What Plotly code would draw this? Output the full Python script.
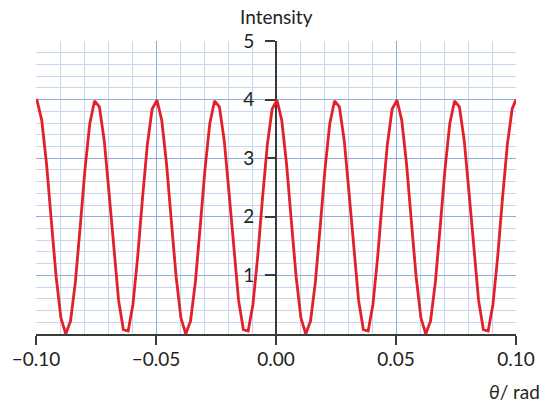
import plotly.graph_objects as go

# Sample positions (rad): roughly 0.002 rad apart
theta = [-0.1] + [round(-0.0996 + 0.002 * k, 4) for k in range(100)] + [0.1]

# Intensity values
intensity = [4.0,
    3.990, 3.647, 2.897, 1.924, 0.971, 0.272, 0.001, 0.224, 0.886, 1.824, 2.806, 3.588, 3.977,
    3.877, 3.313, 2.424, 1.430, 0.577, 0.076, 0.051, 0.508, 1.334, 2.326, 3.236, 3.840,
    3.990, 3.647, 2.897, 1.924, 0.971, 0.272, 0.001, 0.224, 0.886, 1.824, 2.806, 3.588, 3.977,
    3.877, 3.313, 2.424, 1.430, 0.577, 0.076, 0.051, 0.508, 1.334, 2.326, 3.236, 3.840,
    3.990, 3.647, 2.897, 1.924, 0.971, 0.272, 0.001, 0.224, 0.886, 1.824, 2.806, 3.588, 3.977,
    3.877, 3.313, 2.424, 1.430, 0.577, 0.076, 0.051, 0.508, 1.334, 2.326, 3.236, 3.840,
    3.990, 3.647, 2.897, 1.924, 0.971, 0.272, 0.001, 0.224, 0.886, 1.824, 2.806, 3.588, 3.977,
    3.877, 3.313, 2.424, 1.430, 0.577, 0.076, 0.051, 0.508, 1.334, 2.326, 3.236, 3.840,
    4.0]

x_tick_vals = [-0.10, -0.05, 0.00, 0.05, 0.10]
x_tick_text = ["\u22120.10", "\u22120.05", "0.00", "0.05", "0.10"]
y_tick_vals = [1, 2, 3, 4, 5]
y_tick_text = ["1", "2", "3", "4", "5"]

FONT = "Lato"
TXT = "#231f20"
MAJOR = "#8eaedb"
MINOR = "#c6d8ef"

fig = go.Figure()
fig.add_trace(go.Scatter(
    x=theta, y=intensity, mode="lines",
    line=dict(color="#e3202a", width=2.8),
    hoverinfo="skip", showlegend=False,
))

fig.update_layout(
    width=543, height=402,
    margin=dict(l=36, r=27, t=41, b=68),
    paper_bgcolor="white", plot_bgcolor="white",
    font=dict(family=FONT, size=19, color=TXT),
    xaxis=dict(
        range=[-0.1, 0.1], automargin=False,
        tickmode="array", tickvals=x_tick_vals, ticktext=x_tick_text,
        showgrid=True, gridcolor=MAJOR, gridwidth=1,
        minor=dict(dtick=0.01, tick0=0, showgrid=True, gridcolor=MINOR, gridwidth=1),
        zeroline=False,
        showline=True, linecolor="#3a3a3a", linewidth=2,
        ticks="outside", ticklen=9, tickwidth=2, tickcolor="#3a3a3a",
        ticklabelstandoff=-2,
        tickfont=dict(family=FONT, size=19, color=TXT),
        layer="below traces",
    ),
    yaxis=dict(
        range=[0, 5], automargin=False,
        anchor="free", position=0.5,
        tickmode="array", tickvals=y_tick_vals, ticktext=y_tick_text,
        showgrid=True, gridcolor=MAJOR, gridwidth=1,
        minor=dict(dtick=0.2, tick0=0, showgrid=True, gridcolor=MINOR, gridwidth=1),
        zeroline=False,
        showline=True, linecolor="#3a3a3a", linewidth=2,
        ticks="outside", ticklen=10, tickwidth=1.5, tickcolor="#3a3a3a",
        ticklabelstandoff=7,
        tickfont=dict(family=FONT, size=19, color=TXT),
        layer="below traces",
    ),
    annotations=[
        dict(text="Intensity", xref="paper", yref="paper", x=0.5, y=1,
             xanchor="center", yanchor="bottom", yshift=11, showarrow=False,
             font=dict(family=FONT, size=19, color=TXT)),
        dict(text="<i>θ</i>/ rad", xref="paper", yref="paper", x=1, y=0,
             xanchor="right", yanchor="top", xshift=26, yshift=-44, showarrow=False,
             font=dict(family=FONT, size=19, color=TXT)),
    ],
)

fig.write_html("out.html", config={"displayModeBar": False},
               post_script="document.body.style.margin='0px';")
